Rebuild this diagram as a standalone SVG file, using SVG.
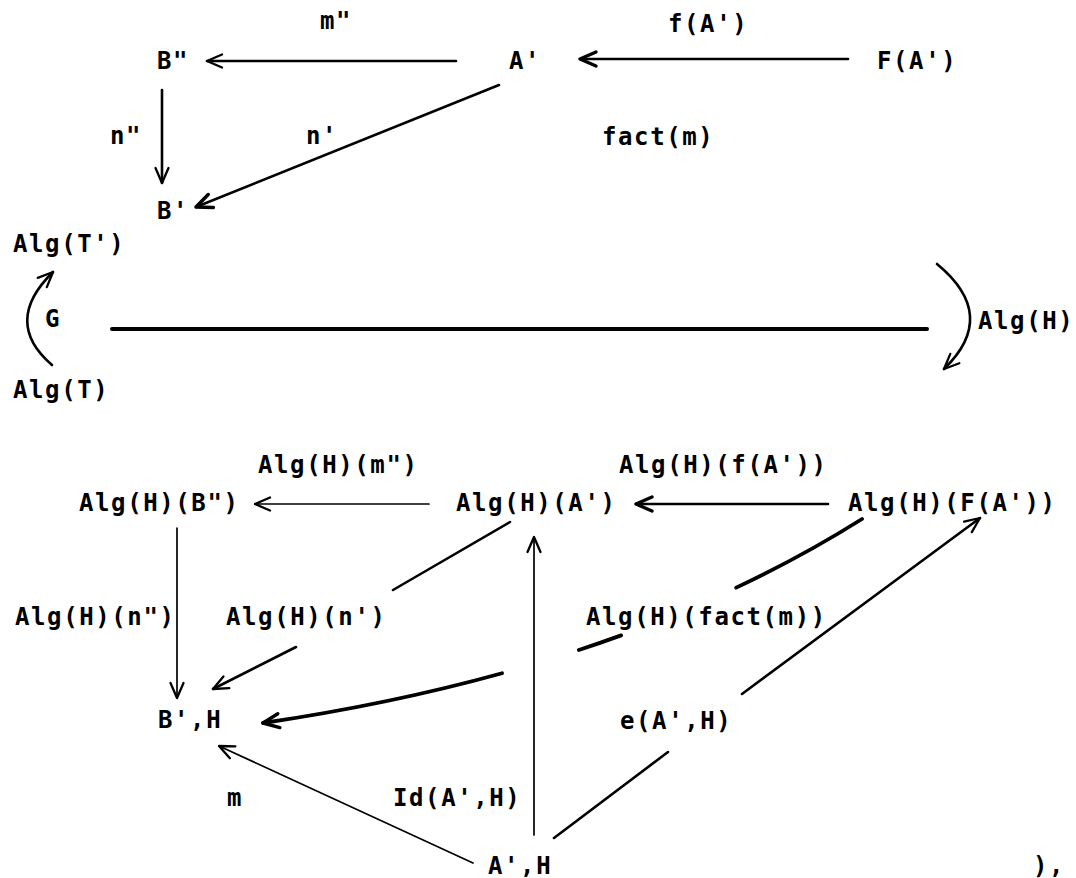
<svg xmlns="http://www.w3.org/2000/svg" width="1076" height="878" viewBox="0 0 1076 878">
<style>
text{font-family:"DejaVu Sans Mono","Liberation Mono",monospace;font-weight:bold;font-size:24px;letter-spacing:1.6px;fill:#000}
.c{fill:none;stroke:#000;stroke-linecap:round}
.t1{stroke-width:1.7}
.t2{stroke-width:2.6}
.t3{stroke-width:3.8}
</style>
<defs>
<marker id="ah" markerUnits="userSpaceOnUse" orient="auto" refX="0" refY="0" overflow="visible">
<path d="M-15,-6.5 L0,0 L-15,6.5" fill="none" stroke="#000" stroke-width="2.3" stroke-linecap="round" stroke-linejoin="round"/>
</marker>
<marker id="ahb" markerUnits="userSpaceOnUse" orient="auto" refX="0" refY="0" overflow="visible">
<path d="M-16,-7 L0,0 L-16,7" fill="none" stroke="#000" stroke-width="3.4" stroke-linecap="round" stroke-linejoin="round"/>
</marker>
</defs>
<rect width="1076" height="878" fill="#fff"/>

<g id="connectors">
<line class="c t2" x1="456" y1="61" x2="207" y2="61" marker-end="url(#ah)"/>
<line class="c t2" x1="848" y1="59" x2="580" y2="59" marker-end="url(#ahb)"/>
<line class="c t2" x1="162" y1="90" x2="162" y2="183" marker-end="url(#ah)"/>
<line class="c t2" stroke-width="3" x1="499" y1="85" x2="196" y2="207" marker-end="url(#ahb)"/>
<line class="c" stroke-width="4" x1="112" y1="329" x2="927" y2="329"/>
<path class="c t2" d="M52,365 Q2,322 53,272" marker-end="url(#ah)"/>
<path class="c t2" d="M937,264 Q999.5,315.5 944,369" marker-end="url(#ah)"/>
<line class="c t1" x1="429" y1="504" x2="255" y2="504" marker-end="url(#ah)"/>
<line class="c t2" x1="828" y1="504" x2="636" y2="504" marker-end="url(#ahb)"/>
<line class="c t1" x1="177" y1="528" x2="177" y2="698" marker-end="url(#ah)"/>
<line class="c t2" x1="510" y1="522" x2="393" y2="590"/>
<line class="c t2" x1="296" y1="647" x2="213" y2="689" marker-end="url(#ah)"/>
<path class="c t3" d="M862,519 Q622,670 263,723" pathLength="1000" stroke-dasharray="225 196 70 126 383" marker-end="url(#ahb)"/>
<line class="c t1" x1="534" y1="835" x2="534" y2="537" marker-end="url(#ah)"/>
<line class="c t2" x1="554" y1="838" x2="668" y2="752"/>
<line class="c t2" x1="742" y1="694" x2="980" y2="518" marker-end="url(#ah)"/>
<line class="c t1" x1="473" y1="863" x2="219" y2="746" marker-end="url(#ah)"/>
</g>

<g id="edge-labels">
<text x="320" y="29">m"</text>
<text x="668" y="32">f(A')</text>
<text x="110" y="144">n"</text>
<text x="306" y="144">n'</text>
<text x="602" y="145">fact(m)</text>
<text x="45" y="327">G</text>
<text x="978" y="329">Alg(H)</text>
<text x="258" y="473">Alg(H)(m")</text>
<text x="619" y="473">Alg(H)(f(A'))</text>
<text x="15" y="625">Alg(H)(n")</text>
<text x="226" y="625">Alg(H)(n')</text>
<text x="586" y="625">Alg(H)(fact(m))</text>
<text x="620" y="729">e(A',H)</text>
<text x="227" y="806">m</text>
<text x="393" y="806">Id(A',H)</text>
</g>

<g id="node-B2"><text x="157" y="69">B"</text></g>
<g id="node-A1"><text x="509" y="69">A'</text></g>
<g id="node-FA1"><text x="877" y="69">F(A')</text></g>
<g id="node-B1"><text x="157" y="219">B'</text></g>
<g id="node-AlgT1"><text x="13" y="252">Alg(T')</text></g>
<g id="node-AlgT"><text x="13" y="398">Alg(T)</text></g>
<g id="node-AlgH-B2"><text x="79" y="511">Alg(H)(B")</text></g>
<g id="node-AlgH-A1"><text x="456" y="511">Alg(H)(A')</text></g>
<g id="node-AlgH-FA1"><text x="848" y="511">Alg(H)(F(A'))</text></g>
<g id="node-B1H"><text x="158" y="728">B',H</text></g>
<g id="node-A1H"><text x="488" y="874">A',H</text></g>
<g id="closing"><text x="1033" y="874">),</text></g>
</svg>
